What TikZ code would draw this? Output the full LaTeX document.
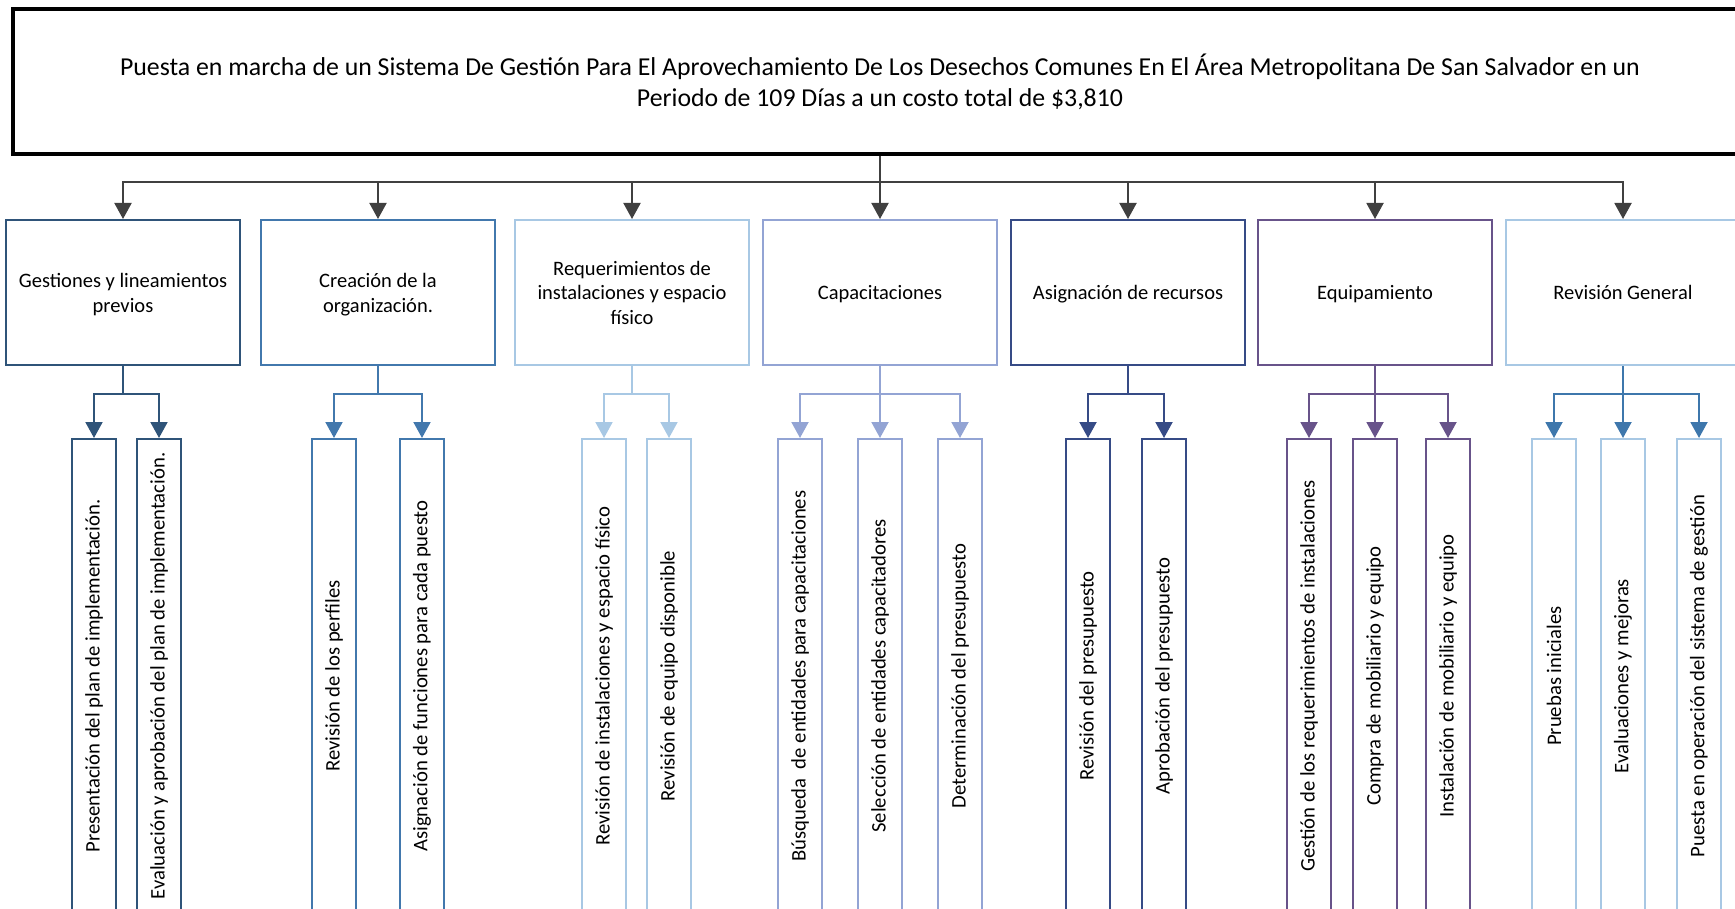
\documentclass[tikz,border=0pt]{standalone}
\usepackage{fontspec}
\setmainfont{Carlito}
\usetikzlibrary{arrows.meta}
\definecolor{cTop}{HTML}{404040}
\definecolor{cA}{HTML}{2F5479}
\definecolor{cB}{HTML}{4278AD}
\definecolor{cC}{HTML}{A8C8E4}
\definecolor{cD}{HTML}{93A4D4}
\definecolor{cE}{HTML}{364B86}
\definecolor{cF}{HTML}{68538A}
\definecolor{cG}{HTML}{A8C8E4}
\definecolor{cGl}{HTML}{3E77AC}
\newcommand{\lv}[1]{\raisebox{-7.5pt}[0pt][0pt]{#1}}
\begin{document}
\begin{tikzpicture}[x=1pt,y=-1pt,
  myarrow/.style={-{Triangle[length=16pt,width=17pt]}},
  titlebox/.style={draw=black, line width=4pt, minimum width=1734pt, minimum height=145pt, align=center, inner sep=0pt, font=\fontsize{25.8}{31}\selectfont},
  lvl/.style={draw, line width=2pt, minimum width=234pt, minimum height=145pt, align=center, inner sep=2pt, fill=white, font=\fontsize{20.5}{24.9}\selectfont},
  leaf/.style={draw, line width=2pt, minimum width=44pt, minimum height=540pt, anchor=north, fill=white},
  leaftext/.style={rotate=90, inner sep=0pt, font=\fontsize{20.7}{24}\selectfont},
  topc/.style={draw=cTop, line width=2pt, myarrow},
  subc/.style={line width=2pt, myarrow}]
\useasboundingbox (0,0) rectangle (1735,909);
\clip (0,0) rectangle (1735,909);

% title
\node[titlebox] (T) at (880,81.5) {Puesta en marcha de un Sistema De Gestión Para El Aprovechamiento De Los Desechos Comunes En El Área Metropolitana De San Salvador en un\\Periodo de 109 Días a un costo total de \$3,810};
\coordinate (bus) at (880,182);

% level 1
\node[lvl, draw=cA] (A) at (123,292.5) {\lv{Gestiones y lineamientos}\\\lv{previos}};
\node[lvl, draw=cB] (B) at (378,292.5) {\lv{Creación de la}\\\lv{organización.}};
\node[lvl, draw=cC] (C) at (632,292.5) {\lv{Requerimientos de}\\\lv{instalaciones y espacio}\\\lv{físico}};
\node[lvl, draw=cD] (D) at (880,292.5) {\lv{Capacitaciones}};
\node[lvl, draw=cE] (E) at (1128,292.5) {\lv{Asignación de recursos}};
\node[lvl, draw=cF] (F) at (1375,292.5) {\lv{Equipamiento}};
\node[lvl, draw=cG] (G) at (1623,292.5) {\lv{Revisión General}};

\foreach \n in {A,B,C,D,E,F,G}
  \draw[topc] (T.south) -- (bus) -| (\n.north);

% level 2 boxes
\node[leaf, draw=cA] (A1) at (94,438) {};
\node[leaf, draw=cA] (A2) at (159,438) {};
\node[leaf, draw=cB] (B1) at (334,438) {};
\node[leaf, draw=cB] (B2) at (422,438) {};
\node[leaf, draw=cC] (C1) at (604,438) {};
\node[leaf, draw=cC] (C2) at (669,438) {};
\node[leaf, draw=cD] (D1) at (800,438) {};
\node[leaf, draw=cD] (D2) at (880,438) {};
\node[leaf, draw=cD] (D3) at (960,438) {};
\node[leaf, draw=cE] (E1) at (1088,438) {};
\node[leaf, draw=cE] (E2) at (1164,438) {};
\node[leaf, draw=cF] (F1) at (1309,438) {};
\node[leaf, draw=cF] (F2) at (1375,438) {};
\node[leaf, draw=cF] (F3) at (1448,438) {};
\node[leaf, draw=cG] (G1) at (1554,438) {};
\node[leaf, draw=cG] (G2) at (1623,438) {};
\node[leaf, draw=cG] (G3) at (1699,438) {};

% level 2 texts
\node[leaftext] (tA1) at (94,676) {Presentación del plan de implementación.};
\node[leaftext] (tA2) at (159,676) {Evaluación y aprobación del plan de implementación.};
\node[leaftext] (tB1) at (334,676) {Revisión de los perfiles};
\node[leaftext] (tB2) at (422,676) {Asignación de funciones para cada puesto};
\node[leaftext] (tC1) at (604,676) {Revisión de instalaciones y espacio físico};
\node[leaftext] (tC2) at (669,676) {Revisión de equipo disponible};
\node[leaftext] (tD1) at (800,676) {Búsqueda\ \ de entidades para capacitaciones};
\node[leaftext] (tD2) at (880,676) {Selección de entidades capacitadores};
\node[leaftext] (tD3) at (960,676) {Determinación del presupuesto};
\node[leaftext] (tE1) at (1088,676) {Revisión del presupuesto};
\node[leaftext] (tE2) at (1164,676) {Aprobación del presupuesto};
\node[leaftext] (tF1) at (1309,676) {Gestión de los requerimientos de instalaciones};
\node[leaftext] (tF2) at (1375,676) {Compra de mobiliario y equipo};
\node[leaftext] (tF3) at (1448,676) {Instalación de mobiliario y equipo};
\node[leaftext] (tG1) at (1554,676) {Pruebas iniciales};
\node[leaftext] (tG2) at (1623,676) {Evaluaciones y mejoras};
\node[leaftext] (tG3) at (1699,676) {Puesta en operación del sistema de gestión};

% level 2 connectors
\foreach \c in {A1,A2} \draw[subc, draw=cA] (A.south) -- ++(0,28) -| (\c.north);
\foreach \c in {B1,B2} \draw[subc, draw=cB] (B.south) -- ++(0,28) -| (\c.north);
\foreach \c in {C1,C2} \draw[subc, draw=cC] (C.south) -- ++(0,28) -| (\c.north);
\foreach \c in {D1,D2,D3} \draw[subc, draw=cD] (D.south) -- ++(0,28) -| (\c.north);
\foreach \c in {E1,E2} \draw[subc, draw=cE] (E.south) -- ++(0,28) -| (\c.north);
\foreach \c in {F1,F2,F3} \draw[subc, draw=cF] (F.south) -- ++(0,28) -| (\c.north);
\foreach \c in {G1,G2,G3} \draw[subc, draw=cGl] (G.south) -- ++(0,28) -| (\c.north);
\end{tikzpicture}
\end{document}
